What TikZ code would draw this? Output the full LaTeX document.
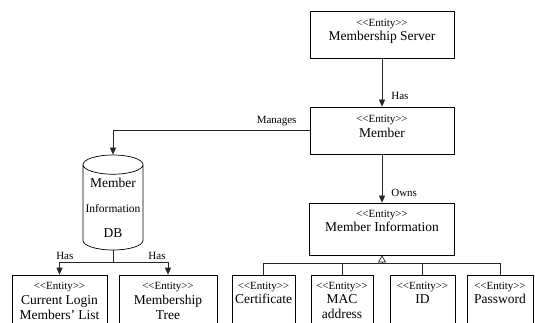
\documentclass[tikz,border=0pt]{standalone}
\usepackage{fontspec}
\setmainfont{Liberation Serif}
\usepackage{tikz}
\usetikzlibrary{arrows.meta, shapes.geometric, positioning}
\newcommand{\stfont}{\fontsize{11}{13}\selectfont}
\newcommand{\nmfont}{\fontsize{13.5}{16}\selectfont}
\newcommand{\entity}{{\stfont <\kern-0.3pt<Entity>\kern-0.3pt>}}
\tikzset{
    entity/.style={draw, line width=0.7pt, minimum width=#1, inner sep=0pt},
    etext/.style={align=center, inner sep=0pt, font=\nmfont},
    lbl/.style={inner sep=0pt, font=\fontsize{11}{13}\selectfont},
    conn/.style={line width=0.7pt, draw=black!85},
    arr/.style={conn, -{Triangle[width=6pt,length=7pt]}},
    gen/.style={conn, -{Triangle[open,width=8pt,length=7pt]}},
    dbase/.style={cylinder, shape border rotate=90, draw, line width=0.7pt,
        aspect=0.35, minimum width=60, minimum height=95, inner sep=0pt,
        align=center, font=\fontsize{13.5}{25}\selectfont}
}

\begin{document}
\begin{tikzpicture}[x=1pt, y=-1pt]
    \useasboundingbox (0,0) rectangle (535,323);
    \clip (0,0) rectangle (535,323);

    % server and member
    \node[entity=144, minimum height=47] (ms) at (382,34.5) {};
    \node[etext, below=8.5pt of ms.north] (ms-t) {\entity\\[-2pt]Membership Server};
    \node[entity=144, minimum height=47] (mem) at (382,130.5) {};
    \node[etext, below=8pt of mem.north] (mem-t) {\entity\\[-1pt]Member};
    \draw[arr] (ms.south) -- node[lbl, pos=0.78, right=9pt] (has-a) {Has} (mem.north);

    % member information
    \node[entity=145, minimum height=52] (mi) at (382,229) {};
    \node[etext, below=7.5pt of mi.north] (mi-t) {\entity\\[-2pt]Member Information};
    \draw[arr] (mem.south) -- node[lbl, pos=0.8, right=9pt] (owns) {Owns} (mi.north);

    % database
    \node[dbase, anchor=shape center] (db) at (113,202.5)
        {Member\\{\fontsize{11.5}{25}\selectfont Information}\\DB};
    \draw[arr] (mem.west) -| node[lbl, pos=0.084, above=4pt] (manages) {Manages} (db.north);

    \node[entity=95, minimum height=60] (cl) at (59.5,305) {};
    \node[etext, below=7pt of cl.north] (cl-t) {\entity\\[-1pt]Current Login\\[-1pt]Members’ List};
    \node[entity=98, minimum height=60] (mt) at (168,305) {};
    \node[etext, below=7pt of mt.north] (mt-t) {\entity\\[-1pt]Membership\\[-1pt]Tree};
    \draw[conn] (db.south) -- ++(0,12) coordinate (dbsplit);
    \draw[arr] (dbsplit) -| node[lbl, pos=0.45, above=2pt] (has-b) {Has} (cl.north);
    \draw[arr] (dbsplit) -| node[lbl, pos=0.4, above=2pt] (has-c) {Has} (mt.north);

    % attributes
    \coordinate (bus) at ([yshift=-8pt]mi.south);
    \draw[gen] (bus) -- (mi.south);
    \foreach \nm/\cx/\w/\txt in {cert/263.5/63/Certificate, mac/342/62/MAC\\[-1pt]address,
                                 id/422.5/65/ID, pw/500/66/Password} {
        \node[entity=\w, minimum height=60] (\nm) at (\cx,305) {};
        \node[etext, below=7.5pt of \nm.north] (\nm-t) {\entity\\[-2pt]\txt};
        \draw[conn] (\nm.north) |- (bus);
    }
\end{tikzpicture}
\end{document}
